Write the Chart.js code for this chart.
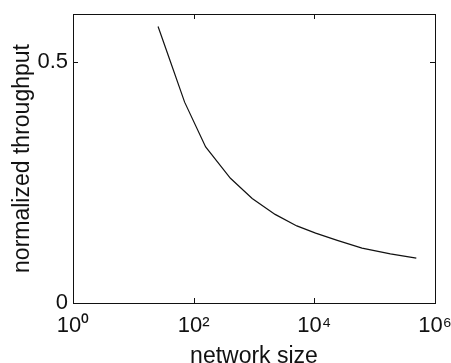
<!DOCTYPE html>
<html>
<head>
<meta charset="utf-8">
<script src="https://cdn.jsdelivr.net/npm/chart.js@4/dist/chart.umd.min.js"></script>
<style>
  html, body { margin: 0; padding: 0; background: #fff; }
  #wrap { width: 451px; height: 363px; }
</style>
</head>
<body>
<div id="wrap"><canvas id="tp"></canvas></div>
<script>
// network size vs normalized throughput
const sizes = [25.7, 40.7, 70.8, 158, 407, 933, 2240, 5130, 10500, 24000, 61700, 182000, 490000];
const throughput = [0.574, 0.503, 0.417, 0.324, 0.259, 0.217, 0.184, 0.160, 0.145, 0.130, 0.114, 0.102, 0.093];

const xTickVals = [1, 100, 10000, 1000000];
const xTickLabels = ['10\u2070', '10\u00b2', '10\u2074', '10\u2076'];
const yTickVals = [0, 0.5];
const yTickLabels = ['0', '0.5'];

const ink = '#111';
const font = 'Liberation Sans, Arial, Helvetica, sans-serif';

// stop the scales from pushing the plot box in for overhanging labels
function noPad(s) {
    s.paddingLeft = 0; s.paddingRight = 0;
    s.paddingTop = 0; s.paddingBottom = 0;
}

// matlab-ish frame with inward ticks on all four sides
const framePlugin = {
    id: 'frame',
    afterDraw(chart) {
        const { ctx, chartArea: a, scales } = chart;
        ctx.save();
        ctx.strokeStyle = ink;
        ctx.lineWidth = 1;
        ctx.strokeRect(a.left + 0.5, a.top + 0.5, a.right - a.left, a.bottom - a.top);
        const len = 5;
        ctx.beginPath();
        xTickVals.forEach(v => {
            const px = Math.round(scales.x.getPixelForValue(v)) + 0.5;
            ctx.moveTo(px, a.bottom); ctx.lineTo(px, a.bottom - len);
            ctx.moveTo(px, a.top); ctx.lineTo(px, a.top + len);
        });
        yTickVals.forEach(v => {
            const py = Math.round(scales.y.getPixelForValue(v)) + 0.5;
            ctx.moveTo(a.left, py); ctx.lineTo(a.left + len, py);
            ctx.moveTo(a.right, py); ctx.lineTo(a.right - len, py);
        });
        ctx.stroke();
        ctx.restore();
    }
};

new Chart(document.getElementById('tp'), {
    type: 'line',
    data: {
        datasets: [{
            data: sizes.map((s, i) => ({ x: s, y: throughput[i] })),
            borderColor: ink,
            borderWidth: 1.2,
            pointRadius: 0,
            tension: 0,
            fill: false
        }]
    },
    options: {
        responsive: true,
        maintainAspectRatio: false,
        animation: false,
        layout: { autoPadding: false, padding: { top: 14, right: 16, left: 0, bottom: 0 } },
        plugins: { legend: { display: false }, tooltip: { enabled: false } },
        scales: {
            x: {
                type: 'logarithmic',
                min: 1,
                max: 1000000,
                afterBuildTicks: s => { s.ticks = xTickVals.map(v => ({ value: v })); },
                afterFit: s => { s.height = 60; noPad(s); },
                grid: { display: false, drawTicks: false },
                border: { display: false },
                ticks: {
                    color: ink,
                    padding: 10,
                    maxRotation: 0,
                    font: { family: font, size: 22 },
                    callback: v => xTickLabels[xTickVals.indexOf(v)]
                },
                title: {
                    display: true,
                    text: 'network size',
                    color: ink,
                    font: { family: font, size: 23 },
                    padding: { top: 0, bottom: -7 }
                }
            },
            y: {
                min: 0,
                max: 0.6,
                afterBuildTicks: s => { s.ticks = yTickVals.map(v => ({ value: v })); },
                afterFit: s => { s.width = 73; noPad(s); },
                grid: { display: false, drawTicks: false },
                border: { display: false },
                ticks: {
                    color: ink,
                    padding: 5,
                    font: { family: font, size: 22 },
                    callback: v => yTickLabels[yTickVals.indexOf(v)]
                },
                title: {
                    display: true,
                    text: 'normalized throughput',
                    color: ink,
                    font: { family: font, size: 23 },
                    padding: { top: 9, bottom: 0 }
                }
            }
        }
    },
    plugins: [framePlugin]
});
</script>
</body>
</html>
